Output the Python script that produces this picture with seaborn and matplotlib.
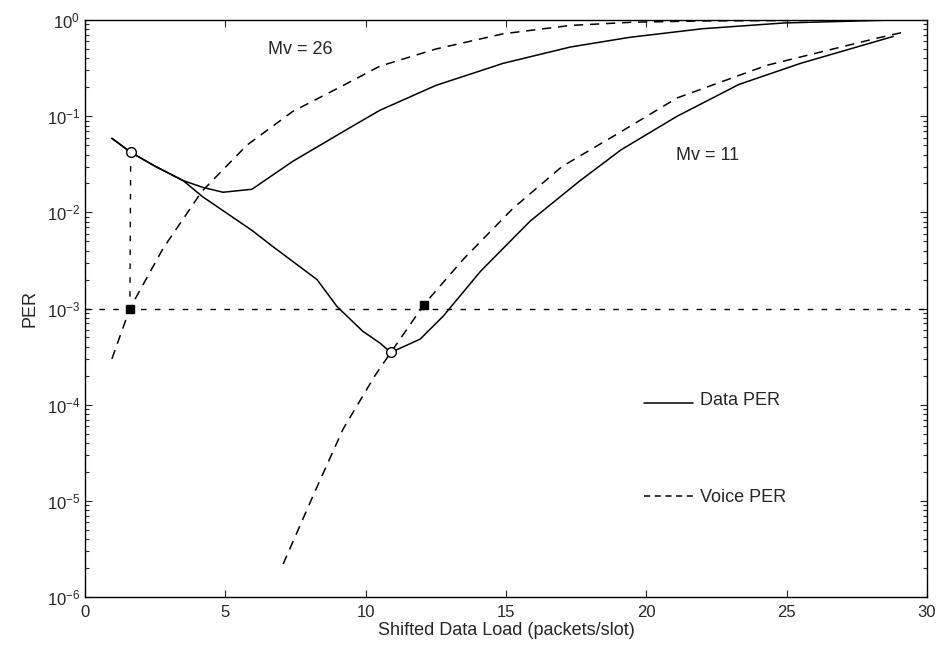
import numpy as np
import pandas as pd
import matplotlib
matplotlib.use("Agg")
import matplotlib.pyplot as plt
from matplotlib.lines import Line2D
from matplotlib.legend_handler import HandlerLine2D
import seaborn as sns

# curves (load in packets/slot, PER)
load_data26 = [0.96, 1.63, 2.5, 3.5, 4.2, 4.92, 5.95, 7.4, 9.2, 10.5, 12.5, 14.9, 17.3, 19.4, 22.0, 24.9, 28.7]
per_data26 = [0.0589, 0.0422, 0.0302, 0.0214, 0.0182, 0.0162, 0.0174, 0.0339, 0.0692, 0.115,
              0.209, 0.355, 0.525, 0.661, 0.813, 0.933, 1.0]

load_data11 = [0.96, 1.63, 2.5, 3.5, 4.2, 5.95, 6.7, 8.27, 8.98, 9.9, 10.5, 10.9, 11.94, 12.76,
               14.1, 15.86, 17.6, 19.1, 21.1, 23.3, 25.5, 28.8]
per_data11 = [0.0589, 0.0422, 0.0302, 0.0214, 0.0145, 6.5e-3, 4.4e-3, 2.0e-3, 1.05e-3, 5.8e-4,
              4.4e-4, 3.5e-4, 4.8e-4, 8.3e-4, 2.45e-3, 8.1e-3, 0.0209, 0.0447, 0.1, 0.214, 0.355, 0.676]

load_voice26 = [0.96, 1.6, 2.78, 4.17, 5.77, 7.4, 9.2, 10.5, 12.5, 14.9, 17.3, 19.5, 22.0, 25.0, 29.0]
per_voice26 = [3.0e-4, 1.0e-3, 4.2e-3, 0.0166, 0.050, 0.112, 0.209, 0.331, 0.50, 0.72, 0.88,
               0.95, 0.98, 0.99, 1.0]

load_voice11 = [7.06, 8.2, 9.2, 10.33, 10.9, 12.08, 13.5, 15.25, 17.0, 19.1, 21.1, 24.3, 28.2, 29.1]
per_voice11 = [2.2e-6, 1.26e-5, 5.6e-5, 2.0e-4, 3.5e-4, 1.1e-3, 3.3e-3, 0.011, 0.030, 0.069,
               0.155, 0.339, 0.646, 0.741]

# operating points
circle_load = [1.63, 10.9]
circle_per = [0.0422, 3.5e-4]
square_load = [1.6, 12.08]
square_per = [1.0e-3, 1.1e-3]

per_target = 1e-3
x_ticks = [0, 5, 10, 15, 20, 25, 30]


class LowLine(HandlerLine2D):
    # draw the legend line at the text baseline, like "____ Data PER"
    def create_artists(self, legend, orig_handle, xdescent, ydescent, width, height, fontsize, trans):
        arts = super().create_artists(legend, orig_handle, xdescent, ydescent, width, height, fontsize, trans)
        for a in arts:
            a.set_ydata(np.asarray(a.get_ydata()) - 0.4 * height)
        return arts


sns.set_style("ticks")
plt.rcParams['font.family'] = ['Liberation Sans', 'DejaVu Sans']
plt.rcParams['mathtext.fontset'] = 'custom'
plt.rcParams['mathtext.rm'] = 'Liberation Sans'
plt.rcParams['mathtext.it'] = 'Liberation Sans'

fig, ax = plt.subplots(figsize=(9.41, 6.48), dpi=100)
fig.subplots_adjust(left=0.0903, right=0.985, bottom=0.0787, top=0.969)

lw = 1.1
for xs, ys in [(load_data26, per_data26), (load_data11, per_data11)]:
    sns.lineplot(x=xs, y=ys, ax=ax, color='black', lw=lw, sort=False, estimator=None)
for xs, ys in [(load_voice26, per_voice26), (load_voice11, per_voice11)]:
    sns.lineplot(x=xs, y=ys, ax=ax, color='black', lw=lw, sort=False, estimator=None,
                 dashes=False, linestyle=(0, (6, 4.5)))

# reference lines at the PER target
ax.axhline(per_target, color='black', lw=1.0, linestyle=(0, (4, 6)))
ax.plot([circle_load[0], square_load[0]], [circle_per[0], square_per[0]],
        color='black', lw=1.0, linestyle=(0, (4, 6)))

ax.plot(circle_load, circle_per, 'o', ms=7, mfc='white', mec='black', mew=1.0, ls='none')
ax.plot(square_load, square_per, 's', ms=6, color='black', ls='none')

ax.text(6.52, 0.50, 'Mv = 26', fontsize=13, va='center', ha='left')
ax.text(21.06, 0.039, 'Mv = 11', fontsize=13, va='center', ha='left')

ax.set_yscale('log')
ax.set_xlim(0, 30)
ax.set_ylim(1e-6, 1)
ax.set_xticks(x_ticks)
ax.set_xticklabels([str(t) for t in x_ticks])
ax.tick_params(which='both', direction='in', top=True, right=True, labelsize=12, width=0.8)
ax.tick_params(axis='x', pad=6)
ax.tick_params(which='major', length=5)
ax.tick_params(which='minor', length=3)
for s in ax.spines.values():
    s.set_linewidth(1.0)
    s.set_color('black')

ax.set_xlabel('Shifted Data Load (packets/slot)', fontsize=13, labelpad=1)
ax.set_ylabel('PER', fontsize=13, labelpad=6)

data_handle = Line2D([], [], color='black', lw=lw)
voice_handle = Line2D([], [], color='black', lw=lw, linestyle=(0, (4, 3)))
ax.legend([data_handle, voice_handle], ['Data PER', 'Voice PER'], loc='upper left',
          bbox_to_anchor=(0.664, 0.356), frameon=False, fontsize=13, handlelength=2.7,
          handletextpad=0.4, labelspacing=4.45, borderpad=0, borderaxespad=0,
          handler_map={data_handle: LowLine()})

fig.savefig('out.png', dpi=100)
